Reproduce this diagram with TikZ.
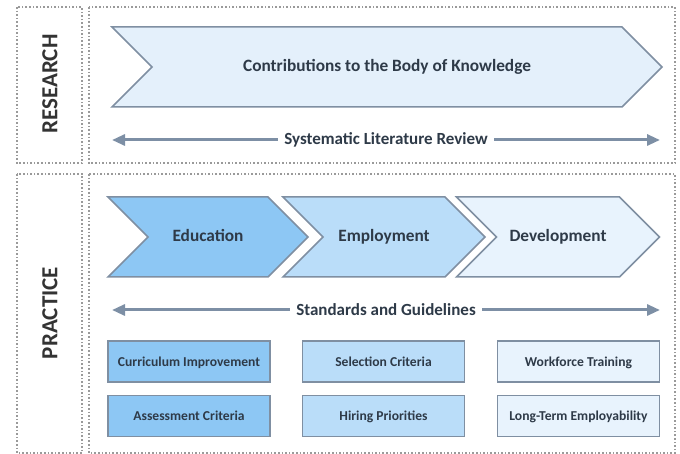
\documentclass[tikz,border=0pt]{standalone}
\usepackage{fontspec}
\setmainfont{Carlito}
\usepackage{xcolor}
\usetikzlibrary{shapes.symbols,arrows.meta}

\definecolor{edgegray}{HTML}{7F8FA2}
\definecolor{dotgray}{HTML}{9A9A9A}
\definecolor{edublue}{HTML}{8DC7F4}
\definecolor{empblue}{HTML}{BADDF9}
\definecolor{devblue}{HTML}{E8F3FD}
\definecolor{resblue}{HTML}{E4F0FB}
\definecolor{inkdark}{HTML}{2E3A48}
\definecolor{arrowgray}{HTML}{7D8FA5}

\begin{document}
\begin{tikzpicture}[x=1pt,y=-1pt,
  panel/.style={draw=dotgray, dotted, line width=1.6pt},
  tag/.style={rotate=90, font=\fontsize{23}{23}\selectfont\bfseries, text=black!80},
  chevron/.style={signal, signal from=west, signal to=east, signal pointer angle=90,
    draw=edgegray, line width=1.5pt, minimum height=80pt, inner sep=0pt,
    text height=1em, text depth=0pt,
    font=\fontsize{17.3}{17.3}\selectfont\bfseries, text=inkdark},
  item/.style={draw=edgegray, line width=1.8pt, minimum width=162pt, minimum height=41pt,
    inner sep=0pt, text height=.95em, text depth=0pt,
    font=\fontsize{13.6}{13.6}\selectfont\bfseries, text=inkdark},
  span/.style={arrowgray, line width=3pt, {Triangle[length=13pt,width=11pt]}-{Triangle[length=13pt,width=11pt]}},
  spanlabel/.style={fill=white, inner xsep=6pt, font=\fontsize{17}{17}\selectfont\bfseries, text=inkdark}
]
\useasboundingbox (0,0) rectangle (680,454);

% dotted frames
\draw[panel] (17,7) rectangle (82,163);
\draw[panel] (89,7) rectangle (675,163);
\draw[panel] (17,174) rectangle (82,453);
\draw[panel] (89,174) rectangle (675,453);

\node[tag] (research) at (50,84) {RESEARCH};
\node[tag] (practice) at (50,313) {PRACTICE};

% research band
\node[chevron, fill=resblue, minimum width=550pt] (body) at (387,67) {Contributions to the Body of Knowledge};

\coordinate (slrL) at (112,140);
\coordinate (slrR) at (660,140);
\draw[span] (slrL) -- (slrR) node[spanlabel, midway] (slr) {Systematic Literature Review};

% practice band
\node[chevron, fill=edublue, minimum width=200pt] (edu) at (208,237) {Education};
\node[chevron, fill=empblue, minimum width=202pt] (emp) at (384,237) {Employment};
\node[chevron, fill=devblue, minimum width=203pt] (dev) at (558,237) {Development};

\coordinate (sagL) at (112,310);
\coordinate (sagR) at (660,310);
\draw[span] (sagL) -- (sagR) node[spanlabel, midway] (sag) {Standards and Guidelines};

\node[item, fill=edublue] (cur) at (189,361.5) {Curriculum Improvement};
\node[item, fill=edublue] (asm) at (189,416) {Assessment Criteria};
\node[item, fill=empblue] (sel) at (383.5,361.5) {Selection Criteria};
\node[item, fill=empblue] (hir) at (383.5,416) {Hiring Priorities};
\node[item, fill=devblue] (wft) at (578.5,361.5) {Workforce Training};
\node[item, fill=devblue] (lte) at (578.5,416) {Long-Term Employability};
\end{tikzpicture}
\end{document}
